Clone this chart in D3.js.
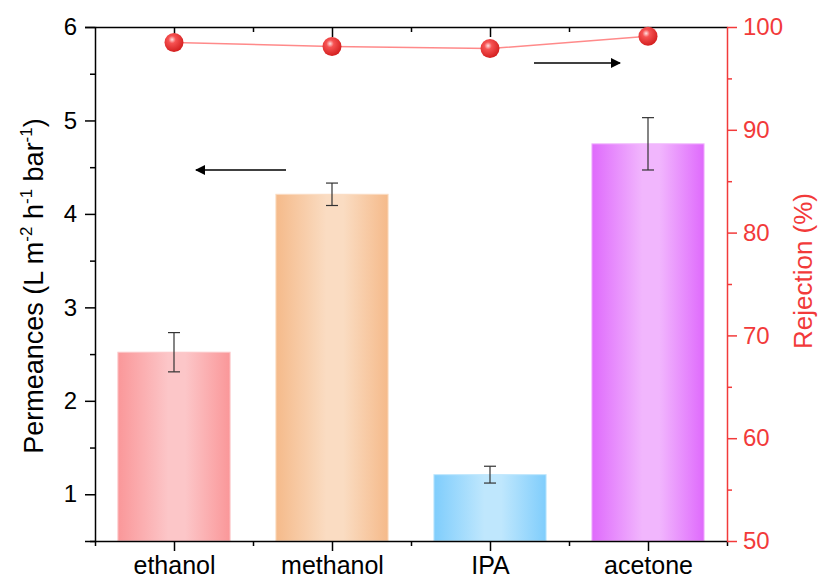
<!DOCTYPE html>
<html>
<head>
<meta charset="utf-8">
<script src="https://cdn.jsdelivr.net/npm/d3@7"></script>
<style>
  body { margin: 0; background: #fff; }
  text { font-family: "Liberation Sans", Arial, sans-serif; }
</style>
</head>
<body>
<div id="chart"></div>
<script>
// data
const solvents = ["ethanol", "methanol", "IPA", "acetone"];
const permeance = [2.52, 4.21, 1.21, 4.75];
const permeanceErr = [0.21, 0.12, 0.09, 0.28];
const rejection = [98.5, 98.1, 97.9, 99.1];
const leftTicks = [1, 2, 3, 4, 5, 6];
const rightTicks = [50, 60, 70, 80, 90, 100];
// bar gradient colours: [edge, centre]
const barColors = [["#fa9799", "#fcc6c8"], ["#f5ba8a", "#fadcc2"], ["#7fcdfc", "#bfe7fd"], ["#df6afc", "#f1b6fd"]];

const margin = { top: 27, right: 94, bottom: 39, left: 95 },
    width = 821 - margin.left - margin.right,
    height = 580 - margin.top - margin.bottom;

const red = "#f23a3a";

const root = d3.select("#chart").append("svg")
    .attr("width", 821)
    .attr("height", 580);

const defs = root.append("defs");
barColors.forEach((c, i) => {
    const g = defs.append("linearGradient").attr("id", "bar" + i)
        .attr("x1", "0%").attr("x2", "100%").attr("y1", "0%").attr("y2", "0%");
    g.append("stop").attr("offset", "0%").attr("stop-color", c[0]);
    g.append("stop").attr("offset", "45%").attr("stop-color", c[1]);
    g.append("stop").attr("offset", "60%").attr("stop-color", c[1]);
    g.append("stop").attr("offset", "100%").attr("stop-color", c[0]);
});
const ball = defs.append("radialGradient").attr("id", "ball")
    .attr("cx", "40%").attr("cy", "35%").attr("r", "65%");
ball.append("stop").attr("offset", "0%").attr("stop-color", "#ffe0e0");
ball.append("stop").attr("offset", "30%").attr("stop-color", "#f65252");
ball.append("stop").attr("offset", "100%").attr("stop-color", "#d41f1f");

const arrow = defs.append("marker").attr("id", "arrow")
    .attr("viewBox", "0 0 10 10").attr("refX", 9).attr("refY", 5)
    .attr("markerWidth", 12).attr("markerHeight", 10)
    .attr("markerUnits", "userSpaceOnUse")
    .attr("orient", "auto");
arrow.append("path").attr("d", "M0,0L10,5L0,10Z").attr("fill", "#000");

const svg = root.append("g")
    .attr("transform", `translate(${margin.left},${margin.top})`);

// scales
const x = d3.scaleBand().domain(solvents).range([0, width]).paddingInner(0.29).paddingOuter(0.145);
const xc = d3.scalePoint().domain(solvents).range([0, width]).padding(0.5);
const xm = d3.scaleLinear().domain([0, 4]).range([0, width]);   // for minor ticks between categories
const y = d3.scaleLinear().domain([0.5, 6]).range([height, 0]);
const y2 = d3.scaleLinear().domain([50, 100]).range([height, 0]);

// bars
svg.selectAll(".bar")
    .data(solvents)
    .join("rect")
    .attr("class", "bar")
    .attr("x", d => x(d))
    .attr("width", x.bandwidth())
    .attr("y", (d, i) => y(permeance[i]))
    .attr("height", (d, i) => height - y(permeance[i]))
    .attr("fill", (d, i) => `url(#bar${i})`)
    .attr("stroke", (d, i) => barColors[i][1])
    .attr("stroke-width", 1);

// error bars
const eb = svg.selectAll(".err").data(solvents).join("g").attr("class", "err")
    .attr("stroke", "#333").attr("stroke-width", 1.2);
eb.append("line")
    .attr("x1", d => xc(d)).attr("x2", d => xc(d))
    .attr("y1", (d, i) => y(permeance[i] + permeanceErr[i]))
    .attr("y2", (d, i) => y(permeance[i] - permeanceErr[i]));
[1, -1].forEach(s => {
    eb.append("line")
        .attr("x1", d => xc(d) - 6).attr("x2", d => xc(d) + 6)
        .attr("y1", (d, i) => y(permeance[i] + s * permeanceErr[i]))
        .attr("y2", (d, i) => y(permeance[i] + s * permeanceErr[i]));
});

// left axis
svg.append("g").attr("class", "ax")
    .call(d3.axisLeft(y).tickValues(leftTicks).tickSize(10).tickPadding(8).tickFormat(d3.format("d")));
svg.append("g").attr("class", "ax")
    .call(d3.axisLeft(y).tickValues(d3.range(0.5, 6, 1)).tickSize(5).tickFormat(""))
    .select(".domain").remove();

// bottom axis
const xAxis = svg.append("g").attr("class", "ax")
    .attr("transform", `translate(0,${height})`)
    .call(d3.axisBottom(xc).tickSize(10).tickPadding(5).tickSizeOuter(0));
svg.append("g").attr("class", "ax")
    .attr("transform", `translate(0,${height})`)
    .call(d3.axisBottom(xm).tickValues([0, 1, 2, 3, 4]).tickSize(5).tickFormat(""))
    .select(".domain").remove();

// top axis, ticks inward
svg.append("g").attr("class", "ax")
    .call(d3.axisBottom(xc).tickSize(10).tickFormat("").tickSizeOuter(0));
svg.append("g").attr("class", "ax")
    .call(d3.axisBottom(xm).tickValues([1, 2, 3]).tickSize(5).tickFormat(""))
    .select(".domain").remove();

// right axis
const rAxis = svg.append("g").attr("class", "ax red")
    .attr("transform", `translate(${width},0)`)
    .call(d3.axisRight(y2).tickValues(rightTicks).tickSize(10).tickPadding(6).tickSizeOuter(0));
svg.append("g").attr("class", "ax red")
    .attr("transform", `translate(${width},0)`)
    .call(d3.axisRight(y2).tickValues(d3.range(55, 100, 10)).tickSize(5).tickFormat(""))
    .select(".domain").remove();

svg.selectAll(".ax").attr("font-family", null).attr("font-size", null);
svg.selectAll(".ax .domain").attr("stroke", "#000").attr("stroke-width", 1.5);
svg.selectAll(".ax .tick line").attr("stroke", "#000").attr("stroke-width", 1.5);
svg.selectAll(".ax .tick text").attr("font-size", 24).attr("fill", "#000");
xAxis.selectAll(".tick text").attr("font-size", 25);
svg.selectAll(".red .domain, .red .tick line").attr("stroke", red);
svg.selectAll(".red .tick text").attr("fill", red);
rAxis.raise();

// rejection line and points
svg.append("path")
    .datum(rejection)
    .attr("fill", "none")
    .attr("stroke", "#ff8a8a")
    .attr("stroke-width", 1.5)
    .attr("d", d3.line().x((d, i) => xc(solvents[i])).y(d => y2(d)));

svg.selectAll(".pt")
    .data(rejection)
    .join("circle")
    .attr("class", "pt")
    .attr("cx", (d, i) => xc(solvents[i]))
    .attr("cy", d => y2(d))
    .attr("r", 9.5)
    .attr("fill", "url(#ball)");

// arrows
svg.append("line")
    .attr("x1", xc("methanol") - 46).attr("x2", xc("ethanol") + 22)
    .attr("y1", y(4.47)).attr("y2", y(4.47))
    .attr("stroke", "#000").attr("stroke-width", 1.5)
    .attr("marker-end", "url(#arrow)");
svg.append("line")
    .attr("x1", xc("IPA") + 44).attr("x2", xc("acetone") - 28)
    .attr("y1", y2(96.5)).attr("y2", y2(96.5))
    .attr("stroke", "#000").attr("stroke-width", 1.5)
    .attr("marker-end", "url(#arrow)");

// axis titles
const lt = root.append("text")
    .attr("transform", `translate(43,${margin.top + height / 2 + 2}) rotate(-90)`)
    .attr("text-anchor", "middle")
    .attr("font-size", 27)
    .attr("fill", "#000");
lt.append("tspan").text("Permeances (L m");
lt.append("tspan").text("-2").attr("font-size", 17).attr("dy", -11);
lt.append("tspan").text(" h").attr("dy", 11);
lt.append("tspan").text("-1").attr("font-size", 17).attr("dy", -11);
lt.append("tspan").text(" bar").attr("dy", 11);
lt.append("tspan").text("-1").attr("font-size", 17).attr("dy", -11);
lt.append("tspan").text(")").attr("dy", 11);

root.append("text")
    .attr("transform", `translate(812,${margin.top + height / 2 - 13}) rotate(-90)`)
    .attr("text-anchor", "middle")
    .attr("font-size", 26)
    .attr("fill", red)
    .text("Rejection (%)");
</script>
</body>
</html>
